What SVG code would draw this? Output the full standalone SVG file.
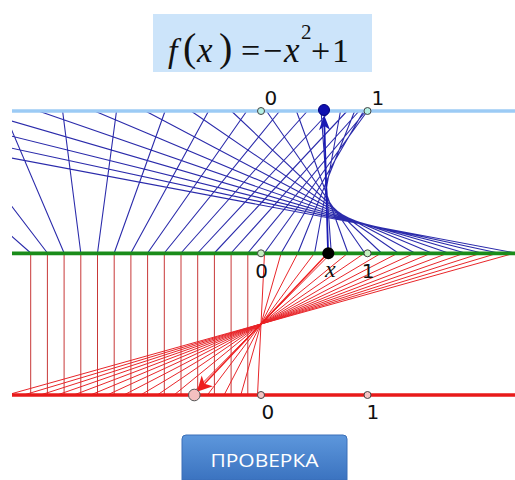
<svg xmlns="http://www.w3.org/2000/svg" width="515" height="480" viewBox="0 0 515 480">
<style>
.tick{stroke:#444;stroke-width:1}
.lbl{font-family:"DejaVu Sans","Liberation Sans",sans-serif;font-size:20px;fill:#111}
.m{font-family:"Liberation Serif","DejaVu Serif",serif;fill:#111}
.it{font-style:italic}
.blue{stroke:#2b2bab;stroke-width:1.1;fill:none}
.red{stroke:#e8262a;stroke-width:1;fill:none}
.redv{stroke:#c83838;stroke-width:1;fill:none}
</style>
<defs>
<clipPath id="clip"><rect x="12" y="108" width="503" height="290"/></clipPath>
<linearGradient id="btn" x1="0" y1="0" x2="0" y2="1">
<stop offset="0" stop-color="#5d97dc"/>
<stop offset="1" stop-color="#3b73c0"/>
</linearGradient>
</defs>
<rect width="515" height="480" fill="#fff"/>

<g id="title">
<rect x="153" y="14" width="219" height="58" fill="#cce4fa"/>
<text class="m it" x="168" y="62" font-size="34">f</text>
<text class="m" x="183" y="61" font-size="40">(</text>
<text class="m it" x="197" y="62" font-size="35">x</text>
<text class="m" x="219" y="61" font-size="40">)</text>
<text class="m" x="241" y="62" font-size="34">=</text>
<text class="m" x="263" y="62" font-size="34">−</text>
<text class="m it" x="284" y="62" font-size="35">x</text>
<text class="m" x="301" y="39" font-size="21">2</text>
<text class="m" x="311" y="62" font-size="34">+</text>
<text class="m" x="332" y="62" font-size="34">1</text>
</g>

<g id="connectors">
<g clip-path="url(#clip)">
<path class="blue" d="M30.7,253L-130.5,111M47.4,253L-60.9,111M64.1,253L3.5,111M80.8,253L62.6,111M97.5,253L116.5,111M114.2,253L165.1,111M130.9,253L208.6,111M147.6,253L246.8,111M164.3,253L279.7,111M181,253L307.4,111M197.7,253L329.9,111M214.4,253L347.1,111M231.1,253L359.1,111M247.8,253L365.9,111M264.5,253L367.4,111M281.2,253L363.7,111M297.9,253L354.7,111M314.6,253L340.5,111M331.3,253L321.1,111M348,253L296.4,111M364.7,253L266.5,111M381.4,253L231.4,111M398.1,253L191,111M414.8,253L145.4,111M431.5,253L94.5,111M448.2,253L38.4,111M464.9,253L-22.9,111M481.6,253L-89.4,111M498.3,253L-161.3,111M515,253L-238.3,111"/>
<path class="redv" d="M30.7,253V395M47.4,253V395M64.1,253V395M80.8,253V395M97.5,253V395M114.2,253V395M130.9,253V395M147.6,253V395M164.3,253V395M181,253V395M197.7,253V395M214.4,253V395M231.1,253V395M247.8,253V395"/>
<path class="red" d="M264.5,253L257.5,395M281.2,253L240.8,395M297.9,253L224.1,395M314.6,253L207.4,395M331.3,253L190.7,395M348,253L174,395M364.7,253L157.3,395M381.4,253L140.6,395M398.1,253L123.9,395M414.8,253L107.2,395M431.5,253L90.5,395M448.2,253L73.8,395M464.9,253L57.1,395M481.6,253L40.4,395M498.3,253L23.7,395M515,253L7,395"/>
</g>
<g id="arrow-blue">
<line x1="328" y1="250" x2="324.4" y2="126" stroke="#1a1ab4" stroke-width="1.8"/>
<path d="M324.1,115L330,129.8L324.4,126L319,130.2Z" fill="#1a1ab4"/>
</g>
<g id="arrow-red">
<line x1="328" y1="253" x2="204.5" y2="383.8" stroke="#ee1c1c" stroke-width="1.4"/>
<path d="M197,391.8L201.7,375.5L204.5,383.8L212.9,386.3Z" fill="#ee1c1c"/>
</g>
</g>

<g id="axis-top">
<line x1="12" y1="111" x2="515" y2="111" stroke="#9ccbf5" stroke-width="3.3"/>
<circle class="tick" cx="261" cy="111" r="3.5" fill="#b4f0e4"/>
<circle class="tick" cx="367.5" cy="111" r="3.5" fill="#b4f0e4"/>
<text class="lbl" x="264.5" y="105">0</text>
<text class="lbl" x="371.5" y="105">1</text>
<circle cx="324" cy="110" r="5.5" fill="#1010b0" stroke="#00007a" stroke-width="1"/>
</g>

<g id="axis-middle">
<line x1="12" y1="253.3" x2="515" y2="253.3" stroke="#1a8c1a" stroke-width="3.8"/>
<circle class="tick" cx="261" cy="253.3" r="3.5" fill="#c4f0c0"/>
<circle class="tick" cx="367.5" cy="253.3" r="3.5" fill="#c4f0c0"/>
<text class="lbl" x="261.5" y="278" text-anchor="middle">0</text>
<text class="lbl" x="368" y="278" text-anchor="middle">1</text>
<text class="m it" x="325" y="277" font-size="24">x</text>
<circle cx="328.3" cy="253.3" r="6" fill="#000"/>
</g>

<g id="axis-bottom">
<line x1="12" y1="395" x2="515" y2="395" stroke="#e81a1a" stroke-width="3.3"/>
<circle class="tick" cx="261" cy="395" r="3.5" fill="#f4c4c4"/>
<circle class="tick" cx="367.5" cy="395" r="3.5" fill="#f4c4c4"/>
<text class="lbl" x="261.5" y="419">0</text>
<text class="lbl" x="366.5" y="419">1</text>
<circle cx="194.3" cy="395" r="5.8" fill="#f4c0c0" stroke="#555" stroke-width="1"/>
</g>

<g id="button">
<path d="M182,480V439Q182,435 186,435H343Q347,435 347,439V480Z" fill="url(#btn)" stroke="#3a6fb8" stroke-width="1"/>
<text x="264.5" y="467" text-anchor="middle" font-family="'Open Sans','Noto Sans',sans-serif" font-size="19" fill="#fff" textLength="108" lengthAdjust="spacingAndGlyphs">ПРОВЕРКА</text>
</g>
</svg>
